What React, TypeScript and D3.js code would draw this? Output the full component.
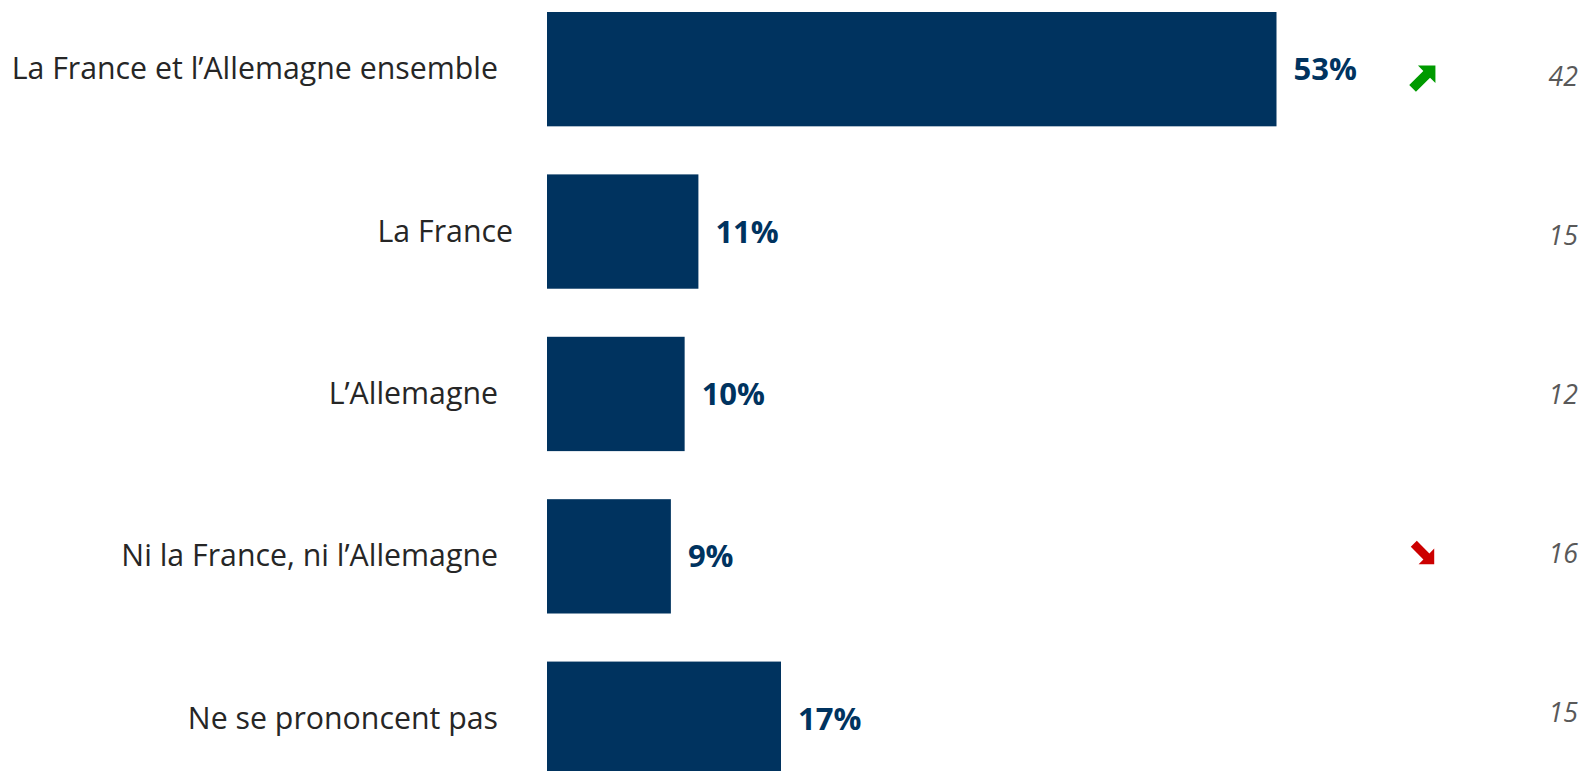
import React from "react";
import * as d3 from "d3";

const categories = [
  "La France et l’Allemagne ensemble",
  "La France",
  "L’Allemagne",
  "Ni la France, ni l’Allemagne",
  "Ne se prononcent pas",
];
const values = [53, 11, 10, 9, 17];
const previous = [42, 15, 12, 16, 15];
const trends: (null | "up" | "down")[] = ["up", null, null, "down", null];

const W = 1586;
const H = 771;
const BAR = "#00335F";

export default function App() {
  const x = d3.scaleLinear().domain([0, 53]).range([547, 1276.5]);
  const y = d3
    .scaleBand<string>()
    .domain(categories)
    .range([12, 775.9])
    .paddingInner(0.296)
    .paddingOuter(0);
  const yr = d3.scalePoint<string>().domain(categories).range([76, 712]);
  const arrowPath = "M17,0 L4,-13 L4,-5 L-17,-5 L-17,5 L4,5 L4,13 Z";

  return (
    <svg
      width={W}
      height={H}
      style={{ position: "absolute", left: 0, top: 0, background: "#fff" }}
      fontFamily="'Open Sans', sans-serif"
    >
      {categories.map((c, i) => {
        const yc = (y(c) as number) + y.bandwidth() / 2;
        const labelX = i === 1 ? 513 : 498;
        return (
          <g key={c}>
            <text x={labelX} y={yc + 10} textAnchor="end" fontSize={30.3} fill="#262626">
              {c}
            </text>
            <rect
              x={x(0)}
              y={y(c)}
              width={x(values[i]) - x(0)}
              height={y.bandwidth()}
              fill={BAR}
            />
            <text
              x={x(values[i]) + 17}
              y={yc + 11}
              fontSize={31}
              fontWeight={700}
              fill={BAR}
            >
              {values[i]}%
            </text>
            <text
              x={1578}
              y={(yr(c) as number) + 9.5}
              textAnchor="end"
              fontSize={26.7}
              fontStyle="italic"
              fill="#595959"
            >
              {previous[i]}
            </text>
            {trends[i] && (
              <path
                d={arrowPath}
                transform={`translate(1424,${(yr(c) as number) + 1}) rotate(${trends[i] === "up" ? -45 : 45}) scale(${trends[i] === "up" ? 0.95 : 0.85})`}
                fill={trends[i] === "up" ? "#009A00" : "#CC0000"}
              />
            )}
          </g>
        );
      })}
    </svg>
  );
}
